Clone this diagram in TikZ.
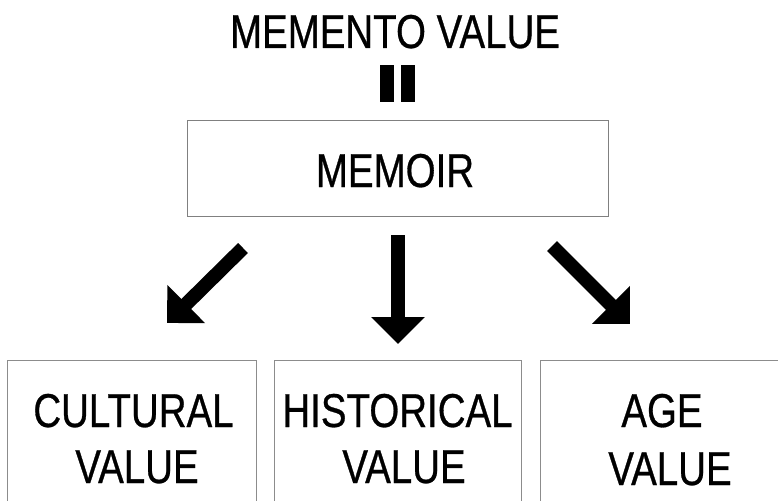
\documentclass[tikz,border=0pt]{standalone}
\usepackage{fontspec}
\setmainfont{Liberation Sans}[FakeStretch=0.81,FakeBold=0.6]
\usetikzlibrary{arrows.meta}
\begin{document}
\begin{tikzpicture}[x=1pt,y=-1pt,
  txt/.style={inner sep=0pt, anchor=base, font=\fontsize{47.5}{57}\selectfont},
  box/.style={draw=black!45, line width=1.2pt, anchor=north west, inner sep=0pt},
  bigarrow/.style={line width=14pt, -{Triangle[length=27pt,width=52pt]}},
  bar/.style={fill=black, draw=none, inner sep=0pt, minimum width=14pt, minimum height=37pt, anchor=north west}]
\useasboundingbox (0,0) rectangle (778,500);
\fill[white] (0,0) rectangle (778,500);
% title
\node[txt] (title) at (395,48) {MEMENTO VALUE};
% equals bars
\node[bar] (barA) at (380,65) {};
\node[bar] (barB) at (401,65) {};
% memoir box
\node[box, draw=black!50, minimum width=421pt, minimum height=96pt] (memoir) at (187,120) {};
\node[txt] (memoirT) at (395,187) {MEMOIR};
% bottom boxes
\begin{scope}
\clip (0,0) rectangle (778,500);
\node[box, minimum width=249pt, minimum height=160pt] (cult) at (7,360) {};
\node[box, minimum width=247pt, minimum height=160pt] (hist) at (274,360) {};
\node[box, minimum width=250pt, minimum height=160pt] (age) at (540,360) {};
\end{scope}
\node[txt] (cultA) at (133.5,427) {CULTURAL};
\node[txt] (cultB) at (137,483) {VALUE};
\node[txt] (histA) at (397.5,427) {HISTORICAL};
\node[txt] (histB) at (404,483) {VALUE};
\node[txt] (ageA) at (662,427) {AGE};
\node[txt] (ageB) at (670,485) {VALUE};
% arrows
\coordinate (lA) at (243,248);
\coordinate (lB) at (167,323);
\coordinate (mA) at (398,235);
\coordinate (mB) at (398,344);
\coordinate (rA) at (552,246);
\coordinate (rB) at (630,324);
\draw[bigarrow] (lA) -- (lB);
\draw[bigarrow] (mA) -- (mB);
\draw[bigarrow] (rA) -- (rB);
\end{tikzpicture}
\end{document}
